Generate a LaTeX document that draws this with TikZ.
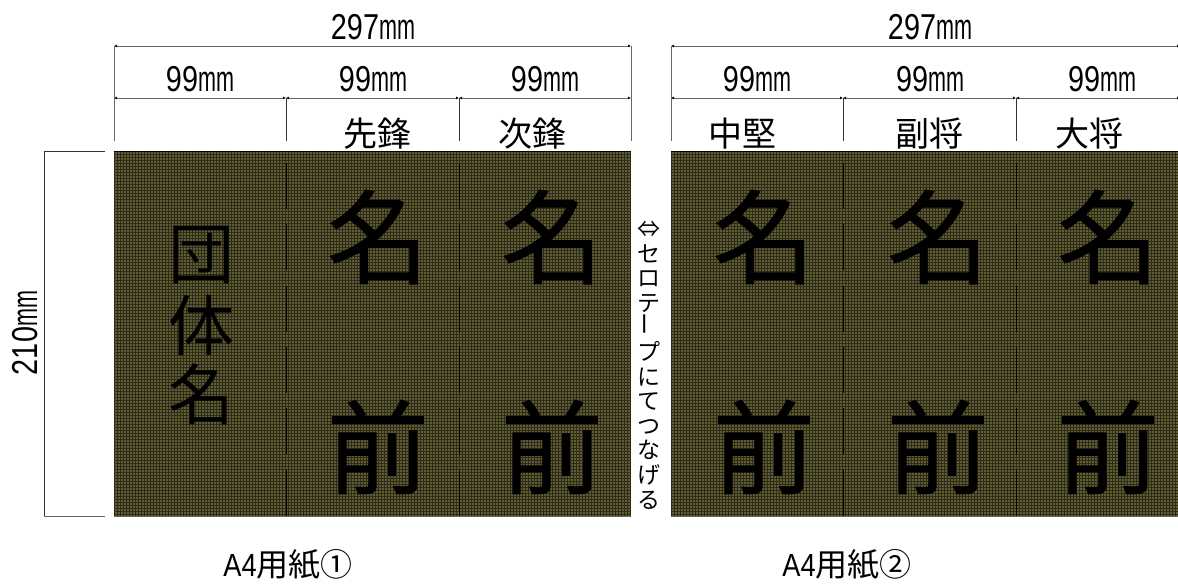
\documentclass[tikz,border=0pt]{standalone}
\usepackage{fontspec}
\usetikzlibrary{arrows.meta}
\setmainfont{Noto Sans CJK JP}
\newfontfamily\narrowf{Liberation Sans}
\newfontfamily\heavyf[FakeBold=0.9]{Noto Sans CJK JP}
\definecolor{olivefill}{HTML}{625E34}
\definecolor{gridc}{HTML}{2E2C18}
\tikzset{
  dim/.style={draw=black!60,line width=0.9pt},
  dimtip/.style={draw=black!60,line width=0.9pt,{Latex[length=3pt,width=3pt,black]}-{Latex[length=3pt,width=3pt,black]}},
  tick/.style={draw=black!80,line width=0.8pt},
  cut/.style={draw=black,line width=1pt,dash pattern=on 46pt off 15.3pt},
  lab/.style={inner sep=0pt,font=\fontsize{34}{34}\selectfont},
  num/.style={inner sep=0pt,anchor=base,font=\narrowf\fontsize{36}{36}\selectfont},
  big/.style={inner sep=0pt,font=\heavyf\fontsize{102}{102}\selectfont},
  mid/.style={inner sep=0pt,font=\fontsize{66}{66}\selectfont},
  sheetname/.style={inner sep=0pt,font=\fontsize{32}{32}\selectfont},
  tape/.style={inner sep=0pt,align=center,font=\fontsize{23}{24.6}\selectfont}
}
\newcommand{\numtxt}[2]{\scalebox{0.8}[1]{#1}\scalebox{0.6}[1]{#2}}
\begin{document}
\begin{tikzpicture}[x=1pt,y=-1pt]
\useasboundingbox (0,0) rectangle (1178,585);
\fill[white] (0,0) rectangle (1178,585);
\fill[olivefill] (114,151) rectangle (631,516);
\fill[olivefill] (671,151) rectangle (1178,516);
\begin{scope}
\clip (114,151) rectangle (631,516);
\foreach \i in {0,...,175}{\draw[gridc,line width=0.55pt] (114+3*\i,151) -- (114+3*\i,516);}
\foreach \i in {0,...,122}{\draw[gridc,line width=0.55pt] (114,151+3*\i) -- (631,151+3*\i);}
\end{scope}
\begin{scope}
\clip (671,151) rectangle (1178,516);
\foreach \i in {0,...,170}{\draw[gridc,line width=0.55pt] (671+3*\i,151) -- (671+3*\i,516);}
\foreach \i in {0,...,122}{\draw[gridc,line width=0.55pt] (671,151+3*\i) -- (1178,151+3*\i);}
\end{scope}
\draw[black,line width=0.9pt] (114,151) -- (631,151) (671,151) -- (1178,151);
\draw[dimtip] (114,46) -- (631,46);
\draw[dimtip] (114,98) -- (286,98);
\draw[dimtip] (286,98) -- (459,98);
\draw[dimtip] (459,98) -- (631,98);
\draw[dimtip] (671,46) -- (1180,46);
\draw[dimtip] (671,98) -- (843,98);
\draw[dimtip] (843,98) -- (1016,98);
\draw[dimtip] (1016,98) -- (1180,98);
\foreach \x in {114,631,671}{\draw[dim] (\x,46) -- (\x,141);}
\foreach \x in {286,459,843,1016}{\draw[tick] (\x,98) -- (\x,141);}
\draw[tick] (44,151) -- (105,151);
\draw[tick] (44,151) -- (44,516);
\draw[dim] (44,516) -- (105,516);
\foreach \x in {286,459,843,1016}{\draw[cut] (\x,163) -- (\x,516);}
\draw[dim] (114,516) -- (631,516);
\draw[dim] (671,516) -- (1178,516);
\node[num] (t1) at (373,40) {\numtxt{297}{mm}};
\node[num] (t2) at (930,40) {\numtxt{297}{mm}};
\foreach \x/\n in {200/a,373/b,545/c,757/d,930/e,1102/f}{\node[num] (n\n) at (\x,92) {\numtxt{99}{mm}};}
\node[lab] (p1) at (377,134) {先鋒};
\node[lab] (p2) at (532,134) {次鋒};
\node[lab] (p3) at (742,134) {中堅};
\node[lab] (p4) at (929,134) {副将};
\node[lab] (p5) at (1089,134) {大将};
\foreach \x/\n in {378/a,552/b,764/c,938/d,1108/e}{
 \node[big] (m\n) at (\x,237) {名};
 \node[big] (z\n) at (\x,447) {前};
}
\node[mid] (g1) at (201,255) {団};
\node[mid] (g2) at (201,325) {体};
\node[mid] (g3) at (201,394) {名};
\node[num,rotate=90] (h) at (37,333) {\numtxt{210}{mm}};
\node[tape,anchor=north] (tape) at (649,221) {⇔\\セ\\ロ\\テ\\\rotatebox{90}{ー}\\プ\\に\\て\\つ\\な\\げ\\る};
\node[sheetname] (a1) at (288,565) {\narrowf\scalebox{0.85}[1]{A4}\rmfamily 用紙①};
\node[sheetname] (a2) at (847,565) {\narrowf\scalebox{0.85}[1]{A4}\rmfamily 用紙②};
\end{tikzpicture}
\end{document}
